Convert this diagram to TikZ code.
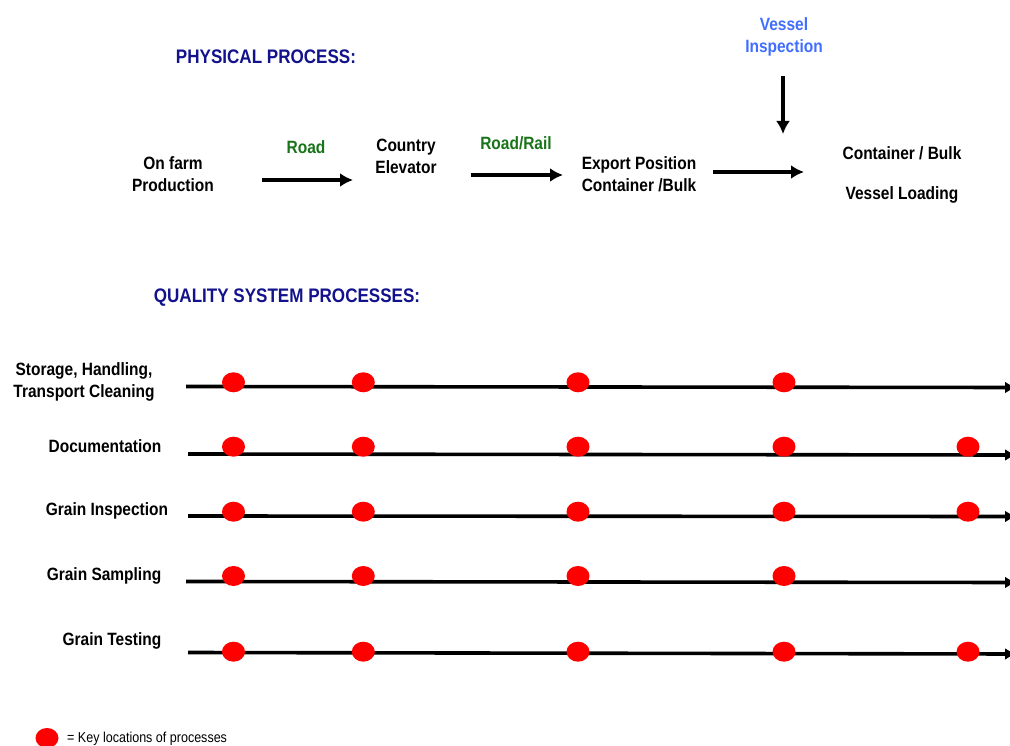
\documentclass[tikz,border=0pt]{standalone}
\usepackage{fontspec}
\setmainfont{Liberation Sans}[FakeStretch=0.87]
\usetikzlibrary{arrows.meta,shapes.geometric}

\definecolor{headblue}{RGB}{18,18,140}
\definecolor{roadgreen}{RGB}{25,115,25}
\definecolor{inspblue}{RGB}{65,110,255}

\tikzset{
  txt/.style={font=\fontsize{17.8}{21.5}\selectfont\bfseries, align=center, inner sep=0pt, text depth=0pt},
  head/.style={font=\fontsize{19.6}{23}\selectfont\bfseries, text=headblue, inner sep=0pt, text depth=0pt},
  mode/.style={txt, text=roadgreen},
  flow/.style={line width=4.2pt, -{Latex[length=13pt,width=14pt]}},
  track/.style={line width=3.6pt, -{Latex[length=11pt,width=12pt]}},
  spot/.style={ellipse, fill=red, minimum width=23pt, minimum height=20pt, inner sep=0pt}
}

\begin{document}
\begin{tikzpicture}[x=1pt, y=-1pt]
        \useasboundingbox (0,0) rectangle (1010,746);
        % physical process
        \node[head] (phys) at (266,57) {PHYSICAL PROCESS:};
        \node[txt] (farm) at (173,174) {On farm\\Production};
        \node[txt] (elev) at (406,156.5) {Country\\Elevator};
        \node[txt] (export) at (639,174) {Export Position\\Container /Bulk};
        \node[txt] (load) at (902,173) {Container / Bulk\\[18.5pt]Vessel Loading};
        \node[txt, text=inspblue] (insp) at (784,35) {Vessel\\Inspection};
        \node[mode] (road) at (306,147) {Road};
        \node[mode] (rail) at (516,143) {Road/Rail};
        \coordinate (a1s) at (262,180);  \coordinate (a1e) at (353,180);
        \coordinate (a2s) at (471,175);  \coordinate (a2e) at (563,175);
        \coordinate (a3s) at (713,172);  \coordinate (a3e) at (804,172);
        \coordinate (a4s) at (783,76);   \coordinate (a4e) at (783,134);
        \draw[flow] (a1s) -- (a1e);
        \draw[flow] (a2s) -- (a2e);
        \draw[flow] (a3s) -- (a3e);
        \draw[flow] (a4s) -- (a4e);

        % quality system
        \node[head] (qual) at (287,296) {QUALITY SYSTEM PROCESSES:};
        \node[txt] (store) at (84,380) {Storage, Handling,\\Transport Cleaning};
        \node[txt] (docs) at (105,446) {Documentation};
        \node[txt] (ginsp) at (107,509) {Grain Inspection};
        \node[txt] (gsamp) at (104,574) {Grain Sampling};
        \node[txt] (gtest) at (112,639) {Grain Testing};
        \coordinate (s1) at (186,386.5); \coordinate (e1) at (1016,387.5);
        \coordinate (s2) at (188,454);   \coordinate (e2) at (1016,455);
        \coordinate (s3) at (188,516);   \coordinate (e3) at (1016,516.5);
        \coordinate (s4) at (186,581.5); \coordinate (e4) at (1016,582.5);
        \coordinate (s5) at (188,652.5); \coordinate (e5) at (1016,654);
        \draw[track] (s1) -- (e1);
        \draw[track] (s2) -- (e2);
        \draw[track] (s3) -- (e3);
        \draw[track] (s4) -- (e4);
        \draw[track] (s5) -- (e5);
        \path (233.5,382.3) node[spot] (d11) {} (363.3,382.3) node[spot] (d12) {}
              (578,382.3) node[spot] (d13) {} (784,382.3) node[spot] (d14) {};
        \path (233.5,446.7) node[spot] (d21) {} (363.3,446.7) node[spot] (d22) {}
              (578,446.7) node[spot] (d23) {} (784,446.7) node[spot] (d24) {}
              (968,446.7) node[spot] (d25) {};
        \path (233.5,511.7) node[spot] (d31) {} (363.3,511.7) node[spot] (d32) {}
              (578,511.7) node[spot] (d33) {} (784,511.7) node[spot] (d34) {}
              (968,511.7) node[spot] (d35) {};
        \path (233.5,576) node[spot] (d41) {} (363.3,576) node[spot] (d42) {}
              (578,576) node[spot] (d43) {} (784,576) node[spot] (d44) {};
        \path (233.5,651.7) node[spot] (d51) {} (363.3,651.7) node[spot] (d52) {}
              (578,651.7) node[spot] (d53) {} (784,651.7) node[spot] (d54) {}
              (968,651.7) node[spot] (d55) {};

        % key
        \node[spot] (keyspot) at (47,738) {};
        \node[anchor=west, inner sep=0pt, font=\fontsize{14.4}{16}\selectfont] (keytxt) at (67,739) {= Key locations of processes};
\end{tikzpicture}
\end{document}
